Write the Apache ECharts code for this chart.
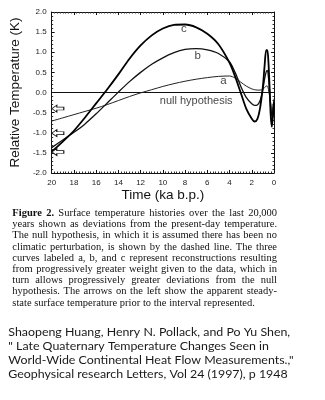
<!DOCTYPE html>
<html><head><meta charset="utf-8">
<script src="https://cdn.jsdelivr.net/npm/echarts@6/dist/echarts.min.js"></script>
<style>html,body{margin:0;padding:0;background:#fff}#c{width:325px;height:400px}</style>
</head><body><div id="c"></div>
<script>
// ---- data ----
const ka = [20,19,18,17,16,15,14,13,12,11,10,9,8,7,6,5,4,3.5,3,2.5,2,1.75,1.5,1.25,1.0,0.85,0.7,0.6,0.5,0.4,0.3,0.2,0.1,0];
const curveC = [-1.47,-1.22,-0.95,-0.62,-0.27,0.08,0.45,0.84,1.17,1.42,1.59,1.68,1.69,1.62,1.46,1.20,0.74,0.40,0.00,-0.40,-0.65,-0.72,-0.66,-0.38,0.15,0.65,1.05,1.05,0.75,0.15,-0.55,-0.85,-0.60,-0.25];
const curveB = [-1.37,-1.18,-0.99,-0.78,-0.53,-0.26,0.01,0.27,0.50,0.70,0.86,0.99,1.07,1.09,1.06,0.97,0.76,0.50,0.16,-0.12,-0.28,-0.32,-0.31,-0.20,0.08,0.33,0.52,0.55,0.38,0.05,-0.35,-0.60,-0.45,-0.20];
const curveA = [-0.71,-0.63,-0.55,-0.47,-0.39,-0.30,-0.20,-0.10,-0.01,0.07,0.15,0.22,0.28,0.33,0.37,0.40,0.41,0.36,0.26,0.16,0.09,0.07,0.06,0.06,0.08,0.12,0.16,0.16,0.08,-0.08,-0.25,-0.50,-0.35,-0.15];
const nullKa = [20, 0];
const nullVal = [0, 0];
const arrowKa = [19.45, 19.45, 19.45];
const arrowVal = [-0.40, -1.01, -1.48];
const xTicks = [20,18,16,14,12,10,8,6,4,2,0];
const yTicks = [-2.0,-1.5,-1.0,-0.5,0.0,0.5,1.0,1.5,2.0];
const captionLines = [
  "Figure 2. Surface temperature histories over the last 20,000",
  "years shown as deviations from the present-day temperature.",
  "The null hypothesis, in which it is assumed there has been no",
  "climatic perturbation, is shown by the dashed line. The three",
  "curves labeled a, b, and c represent reconstructions resulting",
  "from progressively greater weight given to the data, which in",
  "turn allows progressively greater deviations from the null",
  "hypothesis. The arrows on the left show the apparent steady-",
  "state surface temperature prior to the interval represented."
];
const citationLines = [
  "Shaopeng Huang, Henry N. Pollack, and Po Yu Shen,",
  "\" Late Quaternary Temperature Changes Seen in",
  "World-Wide Continental Heat Flow Measurements.,\"",
  "Geophysical research Letters, Vol 24 (1997), p 1948"
];

const zip = (xs, ys) => xs.map((x, i) => [x, ys[i]]);
const chart = echarts.init(document.getElementById('c'), null, {renderer: 'canvas'});

const axisFont = 'Liberation Sans';
const baseX = {
  type: 'value', min: 0, max: 20, interval: 2, inverse: true,
  splitLine: {show: false},
  axisLine: {show: true, onZero: false, lineStyle: {color: '#111', width: 1}},
  axisTick: {show: true, inside: true, length: 3, lineStyle: {color: '#111'}},
  minorTick: {show: true, splitNumber: 8, length: 1.5, lineStyle: {color: '#333'}},
};
const baseY = {
  type: 'value', min: -2, max: 2, interval: 0.5,
  splitLine: {show: false},
  axisLine: {show: true, onZero: false, lineStyle: {color: '#111', width: 1}},
  axisTick: {show: true, inside: true, length: 3, lineStyle: {color: '#111'}},
  minorTick: {show: true, splitNumber: 5, length: 1.5, lineStyle: {color: '#333'}},
};

const option = {
  animation: false,
  backgroundColor: '#fff',
  grid: {left: 49, right: 51, top: 12, bottom: 227},
  xAxis: [
    Object.assign({}, baseX, {
      position: 'bottom',
      name: 'Time (ka b.p.)', nameLocation: 'middle', nameGap: 12,
      nameTextStyle: {fontFamily: axisFont, fontSize: 13.5, color: '#111'},
      axisLabel: {show: true, margin: 6, fontFamily: axisFont, fontSize: 8, color: '#222',
        formatter: v => xTicks.includes(v) ? String(v) : ''}
    }),
    Object.assign({}, baseX, {position: 'top', axisLabel: {show: false}})
  ],
  yAxis: [
    Object.assign({}, baseY, {
      position: 'left',
      name: 'Relative Temperature (K)', nameLocation: 'middle', nameGap: 21,
      nameTextStyle: {fontFamily: axisFont, fontSize: 13.5, color: '#111'},
      axisLabel: {show: true, margin: 5, fontFamily: axisFont, fontSize: 8, color: '#222',
        formatter: v => yTicks.some(t => Math.abs(t - v) < 1e-9) ? v.toFixed(1) : ''}
    }),
    Object.assign({}, baseY, {position: 'right', axisLabel: {show: false}})
  ],
  series: [
    {type: 'line', name: 'null', data: zip(nullKa, nullVal), symbol: 'none',
     lineStyle: {color: '#111', width: 1}, z: 1},
    {type: 'line', name: 'a', data: zip(ka, curveA), symbol: 'none', smooth: 0.3,
     lineStyle: {color: '#222', width: 1}, z: 2},
    {type: 'line', name: 'b', data: zip(ka, curveB), symbol: 'none', smooth: 0.3,
     lineStyle: {color: '#111', width: 1.3}, z: 3},
    {type: 'line', name: 'c', data: zip(ka, curveC), symbol: 'none', smooth: 0.3,
     lineStyle: {color: '#000', width: 1.8}, z: 4},
    {type: 'scatter', name: 'arrows', data: zip(arrowKa, arrowVal),
     symbol: 'path://M0,5 L5,0 L5,3 L12,3 L12,7 L5,7 L5,10 Z', symbolSize: [12, 7],
     itemStyle: {color: '#fff', borderColor: '#111', borderWidth: 0.9, opacity: 1}, z: 5},
    {type: 'scatter', name: 'labels', symbolSize: 0, z: 6,
     data: [
       {name: 'c', value: [8.1, 1.57]},
       {name: 'b', value: [6.86, 0.92]},
       {name: 'a', value: [4.54, 0.28]},
       {name: 'null hypothesis', value: [7.0, -0.21], label: {fontSize: 11}}
     ],
     label: {show: true, position: 'inside', formatter: p => p.name, fontFamily: axisFont,
       color: '#111', fontSize: 11.5},
     labelLayout: {hideOverlap: false}
    }
  ]
};

// ---- caption & citation as real text ----
const mctx = document.createElement('canvas').getContext('2d');
function tw(text, font) { mctx.font = font; return mctx.measureText(text).width; }
const graphics = [];
const capSize = 10.5;
const capReg = capSize + 'px "Liberation Serif"';
const capBold = 'bold ' + capSize + 'px "Liberation Serif"';
const capLeft = 12.3, capRight = 277;
captionLines.forEach((line, i) => {
  const y = 213.3 + i * 11.2;
  const words = line.split(' ');
  const fonts = words.map((w, j) => (i === 0 && j < 2) ? capBold : capReg);
  const widths = words.map((w, j) => tw(w, fonts[j]));
  const sum = widths.reduce((a, b) => a + b, 0);
  const last = i === captionLines.length - 1;
  const gap = last ? tw(' ', capReg) : (capRight - capLeft - sum) / (words.length - 1);
  let x = capLeft;
  words.forEach((w, j) => {
    graphics.push({type: 'text', x: x, y: y, silent: true,
      style: {text: w, font: fonts[j], fill: '#111', verticalAlign: 'middle', align: 'left'}});
    x += widths[j] + gap;
  });
});
const citeFamily = 'Lato';
const citeTarget = 282;
const citeSize = 12 * citeTarget / tw(citationLines[0], '12px ' + citeFamily);
citationLines.forEach((line, i) => {
  graphics.push({type: 'text', x: 8.3, y: 331.7 + i * 14.2, silent: true,
    style: {text: line, font: citeSize.toFixed(2) + 'px ' + citeFamily, fill: '#1a1a1a',
      verticalAlign: 'middle', align: 'left'}});
});
option.graphic = graphics;

chart.setOption(option);
</script>
</body></html>
